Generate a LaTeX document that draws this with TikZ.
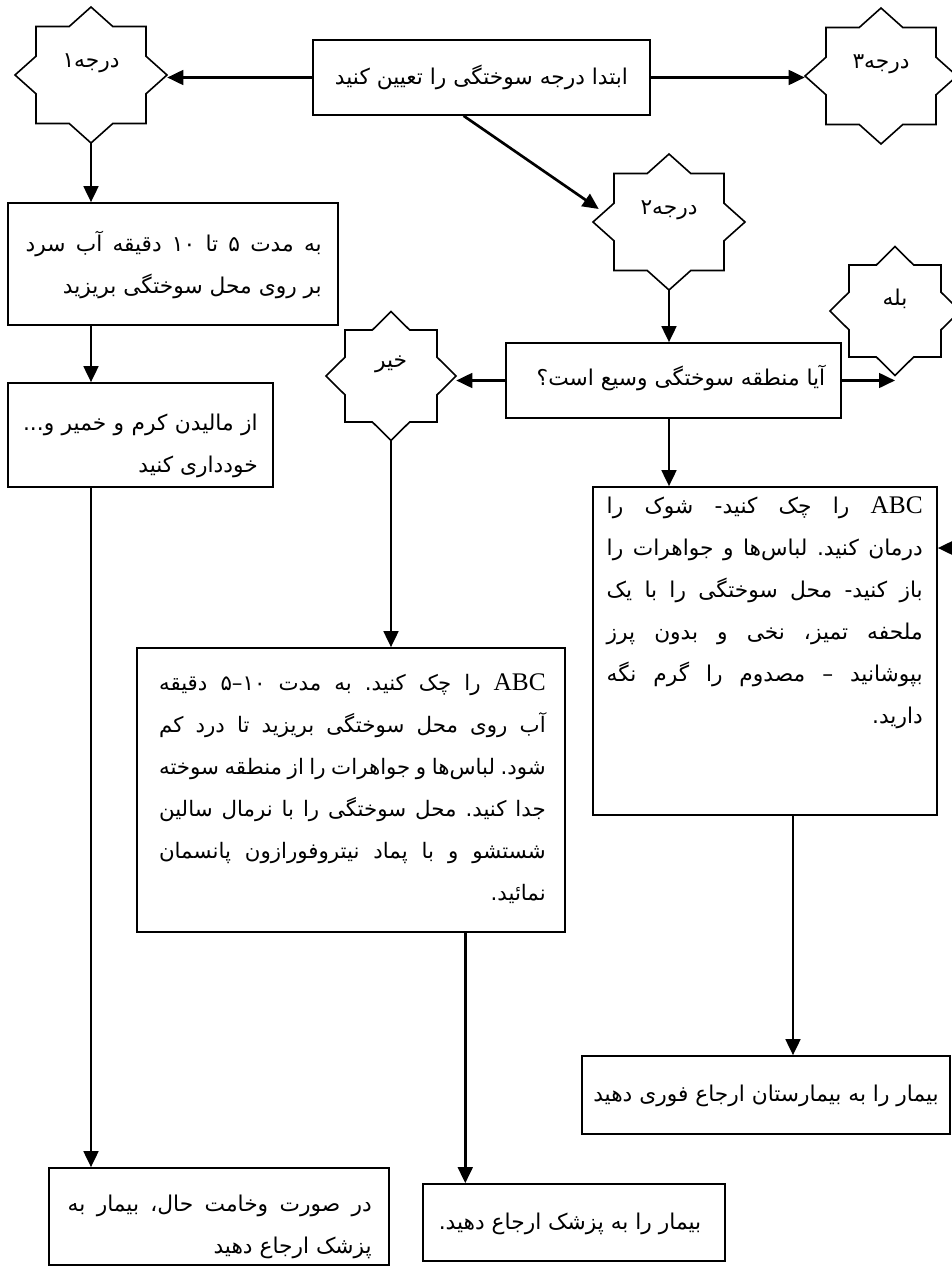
\documentclass[tikz,border=0pt]{standalone}
\usepackage{fontspec}
\newfontfamily\fa[Script=Arabic]{DejaVu Sans}
\newfontfamily\lat{Liberation Serif}
\TeXXeTstate=1
\frenchspacing
\usetikzlibrary{arrows.meta,shapes.geometric,calc}
\newcommand\RL[1]{\beginR #1\endR}
\newcommand\JL[1]{\hbox to \hsize{\beginR #1\endR}}
\newcommand\LL[1]{\hbox to \hsize{\hfil\beginR #1\endR}}
\newcommand\Par[2]{\vtop{\hsize=#1\relax\baselineskip=31.5pt\lineskiplimit=-10pt #2}}
\newcommand\abc{\beginL{\lat\fontsize{19}{20}\selectfont ABC}\endL}
\tikzset{
  boxst/.style={draw, line width=1.2pt, inner sep=0pt},
  arr/.style={line width=2pt, -{Triangle[length=12pt,width=11pt]}},
  starline/.style={line width=1.2pt, line join=miter},
  txt/.style={font=\fa\fontsize{16.3}{31.5}\selectfont, inner sep=0pt},
}
\newcommand\bx[5]{\node[boxst, minimum width={(#4-#2)*0.75pt}, minimum height={(#5-#3)*0.75pt}] (#1) at ({(#2+#4)/2},{(#3+#5)/2}) {};}
\newcommand\mystar[8]{%
  \node[diamond, inner sep=0pt, minimum width={2*#6*0.75pt}, minimum height={2*#7*0.75pt}] (#1) at (#2,#3) {};
  \pgfmathsetmacro\ix{#6*(#7-#5)/#7}%
  \pgfmathsetmacro\iy{#7*(#6-#4)/#6}%
  \draw[starline, shift={(#2,#3)}] (0,-#7) -- (-\ix,-#5) -- (-#4,-#5) -- (-#4,-\iy) -- (-#6,0) -- (-#4,\iy) -- (-#4,#5) -- (-\ix,#5) -- (0,#7) -- (\ix,#5) -- (#4,#5) -- (#4,\iy) -- (#6,0) -- (#4,-\iy) -- (#4,-#5) -- (\ix,-#5) -- cycle;
  \node[txt] (#1t) at (#2,{#3-12}) {\RL{#8}};
}
\begin{document}
\begin{tikzpicture}[x=0.75pt,y=-0.75pt]
\useasboundingbox (0,0) rectangle (952,1267);
% boxes
\bx{b0}{313}{40}{650}{115}
\bx{q}{506}{343}{841}{418}
\bx{l1}{8}{203}{338}{325}
\bx{l2}{8}{383}{273}{487}
\bx{l3}{49}{1168}{389}{1265}
\bx{r1}{593}{487}{937}{815}
\bx{m}{137}{648}{565}{932}
\bx{r2}{582}{1056}{950}{1134}
\bx{m2}{423}{1184}{725}{1261}
% stars
\mystar{s1}{91}{75}{55}{48.5}{76}{68}{درجه۱}
\mystar{s3}{881}{76}{55}{48.5}{76}{68}{درجه۳}
\mystar{s2}{669}{222}{55}{48.5}{76}{68}{درجه۲}
\mystar{sn}{391}{376}{46}{46}{65}{64.5}{خیر}
\mystar{sy}{895}{311}{46}{46}{65}{64.5}{بله}
% texts
\node[txt, anchor=base] (t0) at (481.5,84) {\RL{ابتدا درجه سوختگی را تعیین کنید}};
\node[txt, anchor=base] (tq) at (681,385) {\RL{آیا منطقه سوختگی وسیع است؟}};
\node[txt, anchor=base east] (tl1) at (322,251) {\Par{222pt}{\JL{به مدت ۵ تا ۱۰ دقیقه آب سرد}\LL{بر روی محل سوختگی بریزید}}};
\node[txt, anchor=base east] (tl2) at (258,430) {\Par{176pt}{\JL{از مالیدن کرم و خمیر و...}\LL{خودداری کنید}}};
\node[txt, anchor=base east] (tl3) at (372,1211) {\Par{228pt}{\JL{در صورت وخامت حال، بیمار به}\LL{پزشک ارجاع دهید}}};
\node[txt, anchor=base east] (tr1) at (923,513) {\Par{237pt}{%
\JL{\abc{} را چک کنید- شوک را}%
\JL{درمان کنید. لباس‌ها و جواهرات را}%
\JL{باز کنید- محل سوختگی را با یک}%
\JL{ملحفه تمیز، نخی و بدون پرز}%
\JL{بپوشانید – مصدوم را گرم نگه}%
\LL{دارید.}}};
\node[txt, anchor=base east, font=\fa\fontsize{16}{31.5}\selectfont] (tm) at (546,690) {\Par{290pt}{%
\JL{\abc{} را چک کنید. به مدت ۱۰–۵ دقیقه}%
\JL{آب روی محل سوختگی بریزید تا درد کم}%
\JL{شود. لباس‌ها و جواهرات را از منطقه سوخته}%
\JL{جدا کنید. محل سوختگی را با نرمال سالین}%
\JL{شستشو و با پماد نیتروفورازون پانسمان}%
\LL{نمائید.}}};
\node[txt, anchor=base] (tr2) at (766,1101) {\RL{بیمار را به بیمارستان ارجاع فوری دهید}};
\node[txt, anchor=base] (tm2) at (570,1229) {\RL{بیمار را به پزشک ارجاع دهید.}};
% connectors
\draw[arr] (b0.west) -- (b0.west -| s1.east);
\draw[arr] (b0.east) -- (b0.east -| s3.west);
\coordinate (d0) at ($(b0.south west)!0.447!(b0.south east)$);
\draw[arr] (d0) -- ($(s2.west)+(6,-13)$);
\draw[arr] (s2.south) -- (s2.south |- q.north);
\draw[arr] (q.west) -- (q.west -| sn.east);
\draw[arr] (q.east) -- (q.east -| sy.south);
\draw[arr] (s2.south |- q.south) -- (s2.south |- r1.north);
\draw[arr] (sn.south) -- (sn.south |- m.north);
\draw[arr] (s1.south) -- (s1.south |- l1.north);
\draw[arr] (s1.south |- l1.south) -- (s1.south |- l2.north);
\draw[arr] (s1.south |- l2.south) -- (s1.south |- l3.north);
\coordinate (d1) at ($(m.south west)!0.766!(m.south east)$);
\draw[arr] (d1) -- (d1 |- m2.north);
\coordinate (d2) at ($(r1.south west)!0.581!(r1.south east)$);
\draw[arr] (d2) -- (d2 |- r2.north);
\coordinate (rin) at (952,548);
\draw[arr] (rin) -- (rin -| r1.east);
\end{tikzpicture}
\end{document}
